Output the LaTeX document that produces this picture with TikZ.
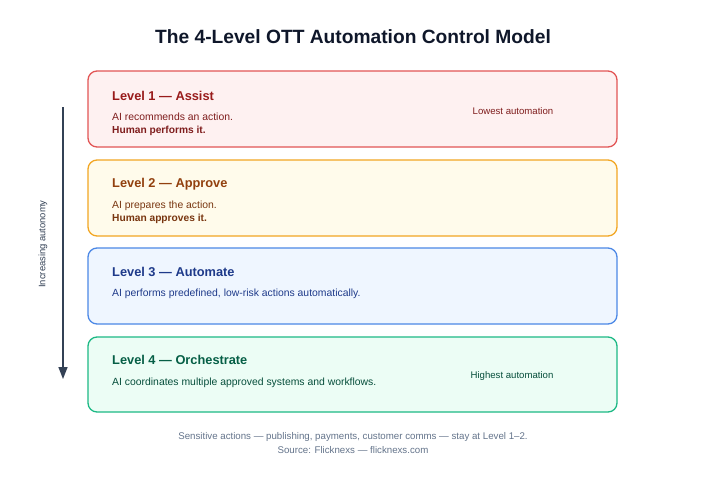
\documentclass[tikz,border=0pt]{standalone}
\usepackage{fontspec}
\setmainfont{Liberation Sans}
\usetikzlibrary{arrows.meta}
\definecolor{redB}{HTML}{E25555}\definecolor{redF}{HTML}{FEF1F1}\definecolor{redH}{HTML}{991B1B}\definecolor{redT}{HTML}{7F1D1D}
\definecolor{orB}{HTML}{F2A623}\definecolor{orF}{HTML}{FFFBEB}\definecolor{orH}{HTML}{92400E}\definecolor{orT}{HTML}{78350F}
\definecolor{blB}{HTML}{4C88E6}\definecolor{blF}{HTML}{EFF6FF}\definecolor{blH}{HTML}{1E3A8A}\definecolor{blT}{HTML}{1E3A8A}
\definecolor{grB}{HTML}{1DB985}\definecolor{grF}{HTML}{ECFDF5}\definecolor{grH}{HTML}{065F46}\definecolor{grT}{HTML}{064E3B}
\definecolor{slate}{HTML}{334155}\definecolor{titleC}{HTML}{0F172A}\definecolor{footC}{HTML}{64748B}
\tikzset{
  levelbox/.style={draw=#1, line width=1.3pt, rounded corners=9pt, minimum width=529pt, minimum height=76pt, inner sep=0pt},
  heading/.style={anchor=west, font=\fontsize{12.8}{15}\selectfont\bfseries, inner sep=0pt},
  bodytxt/.style={anchor=west, font=\fontsize{10.4}{12}\selectfont, inner sep=0pt},
  bodybold/.style={anchor=west, font=\fontsize{10.2}{12}\selectfont\bfseries, inner sep=0pt},
  sidelbl/.style={font=\fontsize{9.6}{11}\selectfont, inner sep=0pt},
  foot/.style={font=\fontsize{9.7}{11}\selectfont, text=footC, inner sep=0pt}
}
\begin{document}
\begin{tikzpicture}[x=1pt,y=-1pt]
\useasboundingbox[fill=white] (0,0) rectangle (707,480);
\node[font=\fontsize{19.2}{22}\selectfont\bfseries, text=titleC] (title) at (353,37) {The 4-Level OTT Automation Control Model};
% boxes
\node[levelbox=redB, fill=redF] (b1) at (352.5,109) {};
\node[levelbox=orB, fill=orF] (b2) at (352.5,198) {};
\node[levelbox=blB, fill=blF] (b3) at (352.5,286) {};
\node[levelbox=grB, fill=grF, minimum height=75pt] (b4) at (352.5,374.5) {};
% level 1
\node[heading, text=redH] (h1) at (112,95.5) {Level 1 — Assist};
\node[bodytxt, text=redT] (t1a) at (112,116.5) {AI recommends an action.};
\node[bodybold, text=redT] (t1b) at (112,131) {Human performs it.};
\node[sidelbl, text=redT] (s1) at (513,111) {Lowest automation};
% level 2
\node[heading, text=orH] (h2) at (112,184.5) {Level 2 — Approve};
\node[bodytxt, text=orT] (t2a) at (112,205.5) {AI prepares the action.};
\node[bodybold, text=orT] (t2b) at (112,219) {Human approves it.};
% level 3
\node[heading, text=blH] (h3) at (112,271.5) {Level 3 — Automate};
\node[bodytxt, text=blT] (t3a) at (112,293.5) {AI performs predefined, low-risk actions automatically.};
% level 4
\node[heading, text=grH] (h4) at (112,359.5) {Level 4 — Orchestrate};
\node[bodytxt, text=grT] (t4a) at (112,382.5) {AI coordinates multiple approved systems and workflows.};
\node[sidelbl, text=grT] (s4) at (512,376) {Highest automation};
% arrow
\coordinate (aTop) at (63,107);
\coordinate (aBot) at (63,379);
\draw[slate, line width=1.5pt, -{Triangle[length=12pt,width=9pt]}] (aTop) -- (aBot);
\node[sidelbl, text=slate, font=\fontsize{9.4}{11}\selectfont, rotate=90] (alab) at (43,244) {Increasing autonomy};
% footer
\node[foot] (f1) at (353,437) {Sensitive actions — publishing, payments, customer comms — stay at Level 1–2.};
\node[foot] (f2) at (353,450) {Source: Flicknexs — flicknexs.com};
\end{tikzpicture}
\end{document}
